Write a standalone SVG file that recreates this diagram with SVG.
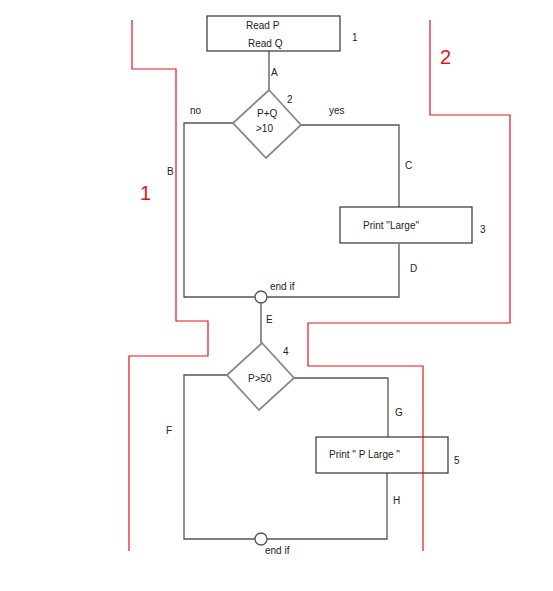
<svg xmlns="http://www.w3.org/2000/svg" width="553" height="591" viewBox="0 0 553 591">
<style>
text{font-family:"Liberation Sans",Arial,sans-serif;font-size:10px;fill:#222}
.box{fill:#fff;stroke:#333;stroke-width:1.2}
.dia{fill:#fff;stroke:#888;stroke-width:1.8}
.ln{fill:none;stroke:#555;stroke-width:1.3}
.red{fill:none;stroke:#e8121b;stroke-width:1.2}
.rt{font-size:20px;fill:#e8121b}
.circ{fill:#fff;stroke:#555;stroke-width:1.3}
</style>
<rect width="553" height="591" fill="#fff"/>
<g id="connectors">
<path class="ln" d="M269,51V90"/>
<path class="ln" d="M233,123H184V297H399V244"/>
<path class="ln" d="M301,125H399V207"/>
<path class="ln" d="M261,303V343"/>
<path class="ln" d="M227,375H184V539H387V473"/>
<path class="ln" d="M294,378H388V437"/>
<text x="271" y="76">A</text>
<text x="167" y="175">B</text>
<text x="405" y="169">C</text>
<text x="410" y="272">D</text>
<text x="266" y="323">E</text>
<text x="166" y="434">F</text>
<text x="395" y="416">G</text>
<text x="393" y="504">H</text>
<text x="190" y="114">no</text>
<text x="329" y="114">yes</text>
</g>
<g id="n1">
<rect class="box" x="207" y="16" width="133" height="35"/>
<text x="246" y="29">Read P</text>
<text x="248" y="47">Read Q</text>
<text x="352" y="41">1</text>
</g>
<g id="n2">
<path class="dia" d="M269,90L301,125L266,158L233,123Z"/>
<text x="257" y="117">P+Q</text>
<text x="256" y="132">&gt;10</text>
<text x="287" y="103">2</text>
</g>
<g id="n3">
<rect class="box" x="340" y="207" width="132" height="36"/>
<text x="363" y="229">Print "Large"</text>
<text x="480" y="233">3</text>
</g>
<g id="endif1">
<circle class="circ" cx="261" cy="297" r="6"/>
<text x="270" y="290">end if</text>
</g>
<g id="n4">
<path class="dia" d="M262,343L294,378L259,410L227,375Z"/>
<text x="248" y="382">P&gt;50</text>
<text x="283" y="355">4</text>
</g>
<g id="n5">
<rect class="box" x="316" y="437" width="132" height="36"/>
<text x="329" y="458">Print " P Large "</text>
<text x="454" y="464">5</text>
</g>
<g id="endif2">
<circle class="circ" cx="261" cy="539" r="6"/>
<text x="265" y="554">end if</text>
</g>
<g id="region1">
<path class="red" d="M132,20V69H176V321H208V356H129V551"/>
<text class="rt" x="140" y="200">1</text>
</g>
<g id="region2">
<path class="red" d="M430,20V115H510V323H308V366H423V551"/>
<text class="rt" x="440" y="64">2</text>
</g>
</svg>
